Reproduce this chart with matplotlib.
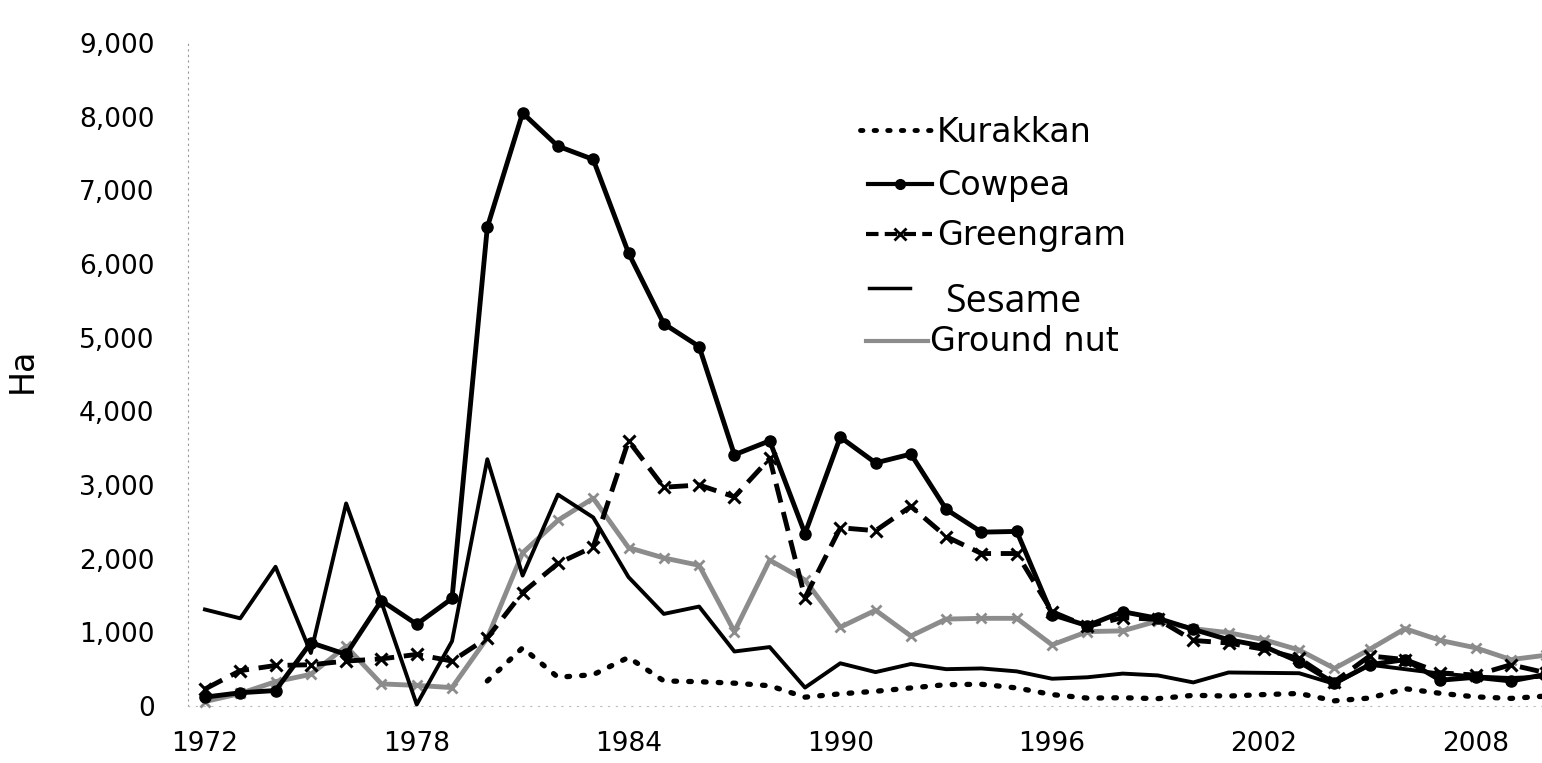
import matplotlib
matplotlib.use("Agg")
import matplotlib.pyplot as plt
import numpy as np

years = list(range(1972, 2011))
nan = np.nan

kurakkan = [nan] * 8 + [340, 790, 390, 425, 660, 340, 330, 310, 275, 120,
                        165, 200, 245, 290, 295, 245, 155, 107, 112, 100,
                        145, 135, 155, 170, 70, 108, 235, 172, 124, 103, 135]
cowpea = [120, 180, 210, 860, 700, 1430, 1110, 1460,
          6500, 8050, 7600, 7420, 6150, 5190, 4880, 3410, 3600, 2340,
          3650, 3300, 3420, 2670, 2360, 2370, 1240, 1090, 1280, 1190,
          1040, 900, 810, 600, 310, 560, 630, 350, 390, 340, 430]
greengram = [230, 480, 550, 560, 610, 640, 700, 610,
             925, 1540, 1935, 2160, 3600, 2970, 3000, 2840, 3360, 1470,
             2420, 2380, 2710, 2300, 2070, 2070, 1280, 1080, 1200, 1175,
             890, 855, 770, 645, 330, 680, 630, 450, 420, 560, 450]
sesame = [1310, 1190, 1890, 720, 2750, 1410, 20, 880,
          3350, 1770, 2870, 2560, 1750, 1250, 1350, 740, 800, 250,
          580, 460, 570, 500, 510, 470, 370, 390, 440, 415,
          320, 455, 450, 445, 300, 560, 500, 440, 400, 380, 400]
groundnut = [60, 170, 330, 430, 810, 300, 280, 250,
             925, 2080, 2520, 2820, 2150, 2010, 1910, 1010, 1980, 1710,
             1070, 1300, 950, 1180, 1190, 1190, 830, 1010, 1020, 1155,
             1050, 995, 900, 760, 510, 770, 1050, 890, 790, 630, 690]

xticks = [1972, 1978, 1984, 1990, 1996, 2002, 2008]
yticks = list(range(0, 9001, 1000))

W, H = 1542, 763
fig = plt.figure(figsize=(W / 100, H / 100), dpi=100)
ax = fig.add_axes([188 / W, 57 / H, 1 - 188 / W, 0.8689])

grey = "#8c8c8c"
ax.plot(years, groundnut, color=grey, lw=3.5, marker="x", ms=7, mew=2,
        zorder=2, clip_on=False)
ax.plot(years, sesame, color="black", lw=2.8, zorder=3, clip_on=False)
ax.plot(years, kurakkan, color="black", lw=3.8, linestyle=(0, (0.5, 2.3)),
        dash_capstyle="round", zorder=3, clip_on=False)
ax.plot(years, greengram, color="black", lw=3.5, linestyle=(0, (4, 2)),
        marker="x", ms=9, mew=2.2, zorder=4, clip_on=False)
ax.plot(years, cowpea, color="black", lw=3.5, marker="o", ms=8,
        zorder=5, clip_on=False)

ax.set_xlim(1971.52, 2009.88)
ax.set_ylim(0, 9000)
ax.set_xticks(xticks)
ax.set_yticks(yticks)
ax.set_yticklabels(["{:,}".format(v) for v in yticks])
ax.tick_params(axis="both", length=0, labelsize=19)
ax.tick_params(axis="y", pad=24)
ax.tick_params(axis="x", pad=18)

for s in ["top", "right"]:
    ax.spines[s].set_visible(False)
ax.spines["left"].set_linestyle((0, (1, 4)))
ax.spines["left"].set_color("#999999")
ax.spines["bottom"].set_linestyle((0, (1, 6)))
ax.spines["bottom"].set_color("#bbbbbb")

fig.text(22 / W, 1 - 370 / H, "Ha", rotation=90, fontsize=24,
         ha="center", va="center")


# legend drawn by hand (the Sesame entry is set in another font)
def fx(x):
    return x / W


def fy(y):
    return 1 - y / H


def handle(x0, x1, y, **kw):
    ax.plot([fx(x0), fx(x1)], [fy(y), fy(y)], transform=fig.transFigure,
            clip_on=False, color="black", **kw)


handle(860, 935, 130, lw=3.5, linestyle=(0, (0.5, 2.3)), dash_capstyle="round")
handle(868, 932, 184, lw=3)
ax.plot([fx(900)], [fy(184)], "o", color="black", ms=7,
        transform=fig.transFigure, clip_on=False)
handle(866, 932, 234, lw=3, linestyle=(0, (3, 1.5)))
ax.plot([fx(900)], [fy(234)], "x", color="black", ms=8, mew=2,
        transform=fig.transFigure, clip_on=False)
handle(869, 910, 288, lw=2.5)
ax.plot([fx(866), fx(928)], [fy(341), fy(341)], color=grey, lw=3,
        transform=fig.transFigure, clip_on=False)

fig.text(fx(937), fy(132), "Kurakkan", fontsize=24, va="center")
fig.text(fx(937), fy(185), "Cowpea", fontsize=24, va="center")
fig.text(fx(937), fy(235), "Greengram", fontsize=24, va="center")
fig.text(fx(945), fy(302), "Sesame", fontsize=27, va="center",
         family="Open Sans")
fig.text(fx(930), fy(342), "Ground nut", fontsize=24, va="center")

fig.savefig("out.png", dpi=100)
